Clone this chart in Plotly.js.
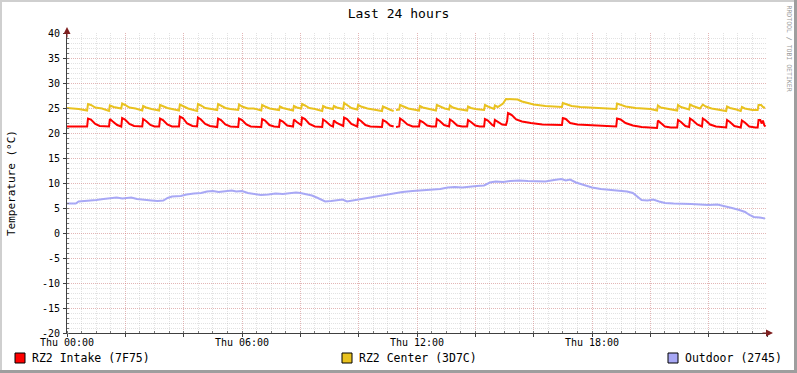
<!DOCTYPE html>
<html><head><meta charset="utf-8">
<script src="https://cdn.plot.ly/plotly-3.0.1.min.js"></script>
<style>html,body{margin:0;padding:0;background:#fff;overflow:hidden}#chart{width:797px;height:373px}</style>
</head><body><div id="chart"></div>
<script>
const titleText = "Last 24 hours";
const yTitle = "Temperature (°C)";
const xTickVals = [0, 6, 12, 18];
const xTickText = ["Thu 00:00", "Thu 06:00", "Thu 12:00", "Thu 18:00"];
const yTickVals = [-20, -15, -10, -5, 0, 5, 10, 15, 20, 25, 30, 35, 40];
const yTickText = ["-20", "-15", "-10", "-5", "0", "5", "10", "15", "20", "25", "30", "35", "40"];
const seriesNames = ["RZ2 Intake (7F75)", "RZ2 Center (3D7C)", "Outdoor (2745)"];
const seriesColors = ["#FF0000", "#E9C21F", "#A8A8F5"];
const watermark = "RRDTOOL / TOBI OETIKER";

// [hour, °C]
const intakeData = [[0,21.3],[0.69,21.3],[0.72,22.9],[0.82,22.7],[0.97,21.8],[1.12,21.4],[1.44,21.3],[1.47,22.8],[1.57,22.3],[1.72,21.6],[1.86,21.3],[1.89,23.0],[1.99,22.7],[2.14,21.8],[2.3,21.4],[2.58,21.3],[2.61,22.8],[2.71,22.4],[2.86,21.6],[3.0,21.3],[3.16,21.3],[3.19,22.9],[3.29,22.6],[3.44,21.7],[3.6,21.3],[3.84,21.3],[3.87,23.3],[3.97,23.0],[4.12,21.9],[4.3,21.4],[4.46,21.3],[4.49,23.1],[4.59,22.7],[4.74,21.8],[4.9,21.4],[5.15,21.2],[5.18,22.9],[5.28,22.6],[5.43,21.7],[5.6,21.3],[5.87,21.2],[5.9,22.9],[6.0,22.6],[6.15,21.7],[6.3,21.3],[6.66,21.2],[6.69,22.8],[6.79,22.5],[6.94,21.6],[7.1,21.3],[7.27,21.2],[7.30,22.6],[7.4,22.3],[7.55,21.5],[7.75,21.3],[7.78,22.7],[7.88,22.2],[8.03,21.6],[8.06,23.1],[8.16,22.8],[8.31,21.8],[8.5,21.3],[8.75,21.2],[8.78,22.7],[8.88,22.3],[9.03,21.5],[9.12,21.3],[9.15,22.5],[9.25,22.0],[9.4,21.5],[9.47,21.4],[9.50,23.1],[9.6,22.8],[9.75,21.8],[9.9,21.4],[9.95,21.3],[9.98,22.8],[10.08,22.4],[10.23,21.6],[10.4,21.3],[10.8,21.2],[10.83,22.6],[10.93,22.3],[11.08,21.5],[11.2,21.3],[11.24,null],[11.28,21.2],[11.39,21.3],[11.42,22.9],[11.52,22.5],[11.67,21.7],[11.85,21.3],[12.07,21.3],[12.10,22.5],[12.2,22.2],[12.35,21.5],[12.5,21.3],[12.65,21.3],[12.68,22.8],[12.78,22.4],[12.93,21.6],[13.1,21.3],[13.13,22.7],[13.23,22.3],[13.38,21.5],[13.55,21.3],[13.72,21.3],[13.75,22.6],[13.85,22.2],[14.0,21.5],[14.15,21.3],[14.30,21.3],[14.33,22.8],[14.43,22.5],[14.58,21.6],[14.64,21.4],[14.67,22.6],[14.77,22.3],[14.92,21.7],[15.05,21.6],[15.09,22.4],[15.12,24.0],[15.25,23.6],[15.4,22.7],[15.6,22.3],[15.9,22.0],[16.3,21.7],[16.97,21.6],[17.0,23.0],[17.1,22.8],[17.25,22.0],[17.5,21.7],[18.0,21.5],[18.5,21.4],[18.83,21.3],[18.86,22.9],[18.98,22.7],[19.15,22.0],[19.4,21.5],[19.7,21.2],[20.0,21.1],[20.23,21.0],[20.26,22.5],[20.36,22.0],[20.5,21.3],[20.7,21.1],[20.92,21.1],[20.95,22.6],[21.05,22.2],[21.2,21.4],[21.33,21.2],[21.36,22.9],[21.46,22.5],[21.61,21.7],[21.77,21.3],[21.80,22.9],[21.9,22.5],[22.05,21.7],[22.25,21.3],[22.6,21.1],[22.63,22.6],[22.73,22.2],[22.88,21.4],[23.1,21.1],[23.14,22.5],[23.24,22.1],[23.39,21.3],[23.6,21.1],[23.68,21.1],[23.71,22.6],[23.77,22.6],[23.82,21.9],[23.86,22.5],[23.91,21.5],[23.95,21.3]];

const centerData = [[0,25.0],[0.4,24.8],[0.69,24.5],[0.72,25.8],[0.82,25.6],[0.97,25.1],[1.2,24.9],[1.44,24.4],[1.47,25.5],[1.6,25.2],[1.86,24.9],[1.89,25.9],[1.99,25.6],[2.14,25.1],[2.35,24.9],[2.58,24.5],[2.61,25.4],[2.71,25.1],[2.9,24.8],[3.16,24.5],[3.19,25.6],[3.29,25.3],[3.44,25.0],[3.6,24.8],[3.84,24.5],[3.87,25.7],[3.97,25.4],[4.15,24.9],[4.46,24.4],[4.49,25.8],[4.59,25.5],[4.74,25.0],[4.95,24.8],[5.15,24.6],[5.18,25.8],[5.28,25.5],[5.43,25.0],[5.6,24.8],[5.87,24.6],[5.9,25.7],[6.0,25.3],[6.2,24.9],[6.4,24.9],[6.66,24.5],[6.69,25.6],[6.79,25.3],[6.95,24.9],[7.27,24.6],[7.30,25.3],[7.4,25.0],[7.6,24.8],[7.75,24.5],[7.78,25.4],[7.88,25.1],[8.03,24.9],[8.06,25.8],[8.16,25.5],[8.31,25.0],[8.5,24.8],[8.75,24.4],[8.78,25.4],[8.88,25.1],[9.12,24.8],[9.15,25.4],[9.25,25.1],[9.47,24.8],[9.50,26.0],[9.6,25.6],[9.75,25.0],[9.95,24.7],[9.98,25.6],[10.08,25.3],[10.3,24.9],[10.6,24.6],[10.8,24.4],[10.83,25.3],[10.93,25.0],[11.1,24.6],[11.2,24.4],[11.24,null],[11.28,24.6],[11.39,24.7],[11.42,25.6],[11.52,25.3],[11.7,24.9],[12.07,24.5],[12.10,25.4],[12.2,25.1],[12.4,24.8],[12.65,24.5],[12.68,25.6],[12.78,25.3],[12.95,24.9],[13.1,24.7],[13.13,25.5],[13.23,25.1],[13.4,24.8],[13.72,24.5],[13.75,25.3],[13.85,25.0],[14.0,24.8],[14.30,24.6],[14.33,25.6],[14.43,25.3],[14.6,24.9],[14.64,24.8],[14.67,25.5],[14.77,25.2],[14.95,25.9],[15.05,26.8],[15.45,26.7],[15.6,26.3],[16.0,25.7],[16.4,25.4],[16.97,25.2],[17.0,26.0],[17.1,25.8],[17.3,25.4],[17.6,25.2],[18.2,25.0],[18.83,24.8],[18.86,25.9],[18.98,25.7],[19.15,25.3],[19.5,25.0],[20.0,24.8],[20.23,24.5],[20.26,25.5],[20.36,25.1],[20.6,24.8],[20.92,24.5],[20.95,25.6],[21.05,25.2],[21.33,24.7],[21.36,25.7],[21.46,25.4],[21.7,24.9],[21.80,25.7],[21.9,25.3],[22.1,24.9],[22.6,24.4],[22.63,25.3],[22.73,25.0],[22.95,24.7],[23.1,24.4],[23.14,25.2],[23.24,24.9],[23.5,24.6],[23.68,24.6],[23.71,25.6],[23.8,25.6],[23.86,25.2],[23.93,25.0]];

const outdoorData = [[0,5.9],[0.3,5.9],[0.4,6.3],[0.8,6.4],[1.0,6.6],[1.25,6.8],[1.5,6.9],[1.7,7.1],[1.9,6.9],[2.05,7.0],[2.2,7.1],[2.4,6.8],[2.65,6.6],[2.9,6.5],[3.1,6.4],[3.3,6.5],[3.45,7.0],[3.6,7.3],[3.9,7.4],[4.1,7.7],[4.35,7.9],[4.6,8.0],[4.8,8.3],[5.0,8.4],[5.2,8.2],[5.45,8.3],[5.65,8.5],[5.8,8.3],[6.0,8.4],[6.2,8.0],[6.4,7.8],[6.65,7.6],[6.9,7.7],[7.15,7.9],[7.4,7.8],[7.65,7.9],[7.85,8.1],[8.0,8.0],[8.2,7.8],[8.4,7.5],[8.6,7.0],[8.85,6.3],[9.05,6.4],[9.25,6.5],[9.45,6.7],[9.6,6.3],[9.8,6.5],[10.05,6.8],[10.3,7.0],[10.6,7.3],[10.9,7.6],[11.2,7.9],[11.5,8.2],[11.85,8.4],[12.1,8.5],[12.35,8.6],[12.6,8.7],[12.8,8.8],[13.05,9.1],[13.3,9.2],[13.55,9.1],[13.8,9.3],[14.05,9.4],[14.3,9.5],[14.5,10.1],[14.7,10.3],[14.95,10.2],[15.2,10.4],[15.5,10.5],[15.8,10.4],[16.1,10.4],[16.4,10.3],[16.7,10.6],[16.95,10.8],[17.1,10.5],[17.25,10.7],[17.45,10.1],[17.7,9.7],[18.0,9.1],[18.3,8.8],[18.6,8.6],[18.9,8.4],[19.2,8.3],[19.4,8.0],[19.55,7.3],[19.7,6.6],[19.9,6.5],[20.1,6.7],[20.3,6.3],[20.5,6.0],[20.8,5.9],[21.1,5.9],[21.4,5.8],[21.7,5.7],[22.0,5.6],[22.3,5.7],[22.55,5.4],[22.8,5.0],[23.05,4.6],[23.25,4.2],[23.4,3.6],[23.55,3.2],[23.75,3.1],[23.93,2.9]];

const allData = [intakeData, centerData, outdoorData];

// ---- layout geometry (pixels) ----
const W = 797, H = 373, L = 67, R = 767, T = 33, B = 333;
const px2x = px => (px - L) / (R - L);
const py2y = py => (B - py) / (B - T);
const FONT = "DejaVu Sans Mono";

const traces = allData.map((d, i) => ({
  type: "scatter", mode: "lines", name: seriesNames[i],
  x: d.map(p => p[0]), y: d.map(p => p[1]),
  line: {color: seriesColors[i], width: 2, shape: "linear"},
  connectgaps: false, hoverinfo: "skip", showlegend: false,
  xaxis: "x", yaxis: "y"
}));
traces.push({type: "scatter", mode: "lines", x: [], y: [], xaxis: "x2", yaxis: "y2", showlegend: false, hoverinfo: "skip"});

const shapes = [
  {type: "rect", xref: "paper", yref: "paper", x0: px2x(0), x1: px2x(W), y0: py2y(0), y1: py2y(2), fillcolor: "#CFCFCF", line: {width: 0}, layer: "below"},
  {type: "rect", xref: "paper", yref: "paper", x0: px2x(0), x1: px2x(2), y0: py2y(0), y1: py2y(H), fillcolor: "#CFCFCF", line: {width: 0}, layer: "below"},
  {type: "rect", xref: "paper", yref: "paper", x0: px2x(W - 3), x1: px2x(W), y0: py2y(0), y1: py2y(H), fillcolor: "#9E9E9E", line: {width: 0}, layer: "below"},
  {type: "rect", xref: "paper", yref: "paper", x0: px2x(0), x1: px2x(W), y0: py2y(H - 3), y1: py2y(H), fillcolor: "#9E9E9E", line: {width: 0}, layer: "below"}
];
const legendX = [15, 342, 668];
const annotations = [];
legendX.forEach((lx, i) => {
  shapes.push({type: "rect", xref: "paper", yref: "paper", x0: px2x(lx), x1: px2x(lx + 10), y0: py2y(353), y1: py2y(363), fillcolor: seriesColors[i], line: {color: "#000", width: 1}});
  annotations.push({xref: "paper", yref: "paper", x: px2x(lx + 15), y: py2y(358), xanchor: "left", yanchor: "middle", showarrow: false, text: seriesNames[i], font: {family: FONT, size: 11.5, color: "#000"}});
});
annotations.push({xref: "paper", yref: "paper", x: px2x(11), y: py2y(183), textangle: -90, xanchor: "center", yanchor: "middle", showarrow: false, text: yTitle, font: {family: FONT, size: 11, color: "#000"}});
annotations.push({xref: "paper", yref: "paper", x: px2x(788.5), y: py2y(48), textangle: 90, xanchor: "center", yanchor: "middle", showarrow: false, text: watermark, font: {family: FONT, size: 6.5, color: "#999999"}});
// axis arrows
annotations.push({xref: "paper", yref: "paper", x: px2x(773), y: 0, ax: -12, ay: 0, axref: "pixel", ayref: "pixel", text: "", showarrow: true, arrowhead: 2, arrowsize: 1.4, arrowwidth: 1, arrowcolor: "#7F1F1F"});
annotations.push({xref: "paper", yref: "paper", x: 0, y: py2y(27), ax: 0, ay: 12, axref: "pixel", ayref: "pixel", text: "", showarrow: true, arrowhead: 2, arrowsize: 1.4, arrowwidth: 1, arrowcolor: "#7F1F1F"});

const minorGrid = "rgba(150,150,150,0.28)";
const majorGrid = "rgba(230,110,110,0.38)";
const layout = {
  width: W, height: H, autosize: false,
  margin: {l: L, r: W - R, t: T, b: H - B, pad: 0},
  paper_bgcolor: "#FFFFFF", plot_bgcolor: "#FFFFFF",
  font: {family: FONT, size: 10, color: "#000"},
  title: {text: titleText, font: {family: FONT, size: 13, color: "#000"}, x: 0.5, xref: "container", xanchor: "center", y: 1 - 13 / H, yref: "container", yanchor: "middle"},
  showlegend: false,
  xaxis: {range: [0, 24], tickmode: "linear", tick0: 0, dtick: 2, showticklabels: false,
    showgrid: true, gridcolor: majorGrid, griddash: "1px,1px", gridwidth: 1,
    minor: {tickmode: "linear", tick0: 0, dtick: 0.5, showgrid: true, gridcolor: minorGrid, griddash: "1px,1px", gridwidth: 1, ticks: "inside", ticklen: 2, tickcolor: "#777"},
    ticks: "outside", ticklen: 3, tickcolor: "#404040",
    zeroline: false, showline: true, linecolor: "#404040", linewidth: 1, fixedrange: true},
  yaxis: {range: [-20, 40], tickmode: "linear", tick0: 0, dtick: 5, showticklabels: false,
    showgrid: true, gridcolor: majorGrid, griddash: "1px,1px", gridwidth: 1,
    minor: {tickmode: "linear", tick0: 0, dtick: 1, showgrid: true, gridcolor: minorGrid, griddash: "1px,1px", gridwidth: 1, ticks: "inside", ticklen: 2, tickcolor: "#777"},
    ticks: "outside", ticklen: 3, tickcolor: "#404040",
    zeroline: false, showline: true, linecolor: "#404040", linewidth: 1, fixedrange: true},
  xaxis2: {overlaying: "x", anchor: "y2", side: "bottom", range: [0, 24], tickmode: "array", tickvals: xTickVals, ticktext: xTickText,
    showgrid: false, zeroline: false, showline: false, ticks: "", tickfont: {family: FONT, size: 10, color: "#000"}, ticklabelstandoff: 2, fixedrange: true},
  yaxis2: {overlaying: "y", anchor: "x2", side: "left", range: [-20, 40], tickmode: "array", tickvals: yTickVals, ticktext: yTickText,
    showgrid: false, zeroline: false, showline: false, ticks: "", tickfont: {family: FONT, size: 10, color: "#000"}, ticklabelstandoff: 6, fixedrange: true},
  shapes: shapes, annotations: annotations
};
Plotly.newPlot("chart", traces, layout, {staticPlot: true, displayModeBar: false});
</script></body></html>
